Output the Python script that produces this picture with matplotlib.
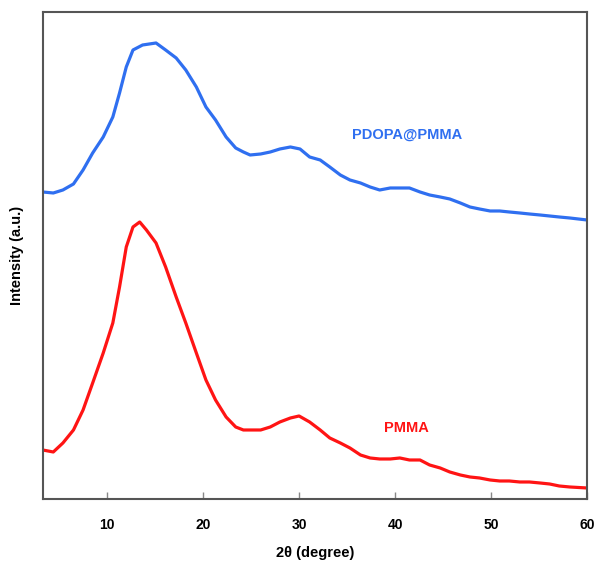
import numpy as np
import matplotlib.pyplot as plt

plt.rcParams['font.family'] = ['Liberation Sans', 'DejaVu Sans']

# --- data (intensity in arbitrary units) ---
two_theta_blue = [3.3, 4.4, 5.4, 6.5, 7.5, 8.5, 9.6, 10.6, 11.3, 12.0, 12.7, 13.7,
                  15.1, 16.1, 17.2, 18.2, 19.3, 20.3, 21.3, 22.4, 23.4, 24.2, 24.9,
                  26.0, 27.0, 28.0, 29.1, 30.1, 31.1, 32.2, 33.2, 34.3, 35.3, 36.4,
                  37.4, 38.4, 39.5, 40.5, 41.5, 42.6, 43.6, 44.7, 45.7, 46.8, 47.8,
                  48.8, 49.9, 50.9, 51.9, 53.0, 54.0, 55.1, 56.1, 57.1, 58.2, 60.0]
pdopa_pmma = [307, 306, 309, 315, 329, 346, 362, 382, 406, 432, 449, 454,
              456, 449, 441, 429, 412, 392, 379, 362, 351, 347, 344,
              345, 347, 350, 352, 350, 342, 339, 332, 324, 319, 316,
              312, 309, 311, 311, 311, 307, 304, 302, 300, 296, 292,
              290, 288, 288, 287, 286, 285, 284, 283, 282, 281, 279]

two_theta_red = [3.3, 4.4, 5.4, 6.5, 7.5, 8.5, 9.6, 10.6, 11.3, 12.0, 12.7, 13.4,
                 14.1, 15.1, 16.1, 17.2, 18.2, 19.3, 20.3, 21.3, 22.4, 23.4, 24.2,
                 24.9, 26.0, 27.0, 28.0, 29.1, 30.0, 31.1, 32.2, 33.2, 34.3, 35.3,
                 36.4, 37.4, 38.4, 39.5, 40.5, 41.5, 42.6, 43.6, 44.7, 45.7, 46.8,
                 47.8, 48.8, 49.9, 50.9, 51.9, 53.0, 54.0, 55.1, 56.1, 57.1, 58.2, 60.0]
pmma = [49, 47, 56, 69, 89, 116, 146, 176, 212, 252, 272, 277,
        269, 256, 232, 202, 176, 146, 119, 99, 82, 72, 69,
        69, 69, 72, 77, 81, 83, 77, 69, 61, 56, 51,
        44, 41, 40, 40, 41, 39, 39, 34, 31, 27, 24,
        22, 21, 19, 18, 18, 17, 17, 16, 15, 13, 12, 11]

fig = plt.figure(figsize=(5.96, 5.63), dpi=100)
ax = fig.add_axes([0.0722, 0.1137, 0.9128, 0.865])

ax.plot(two_theta_blue, pdopa_pmma, color='#2f6ff0', linewidth=2.3)
ax.plot(two_theta_red, pmma, color='#ff1414', linewidth=2.3)

ax.text(41.3, 364, 'PDOPA@PMMA', color='#2f6ff0', fontsize=10.5,
        fontweight='bold', ha='center', va='center')
ax.text(41.2, 71, 'PMMA', color='#ff1414', fontsize=10.5,
        fontweight='bold', ha='center', va='center')

ax.set_xlim(3.33, 60)
ax.set_ylim(0, 487)
ax.set_xticks([10, 20, 30, 40, 50, 60])
ax.set_yticks([])
ax.tick_params(axis='x', direction='in', length=5, width=1, color='#888888',
               labelsize=10, pad=14)
for lbl in ax.get_xticklabels():
    lbl.set_fontweight('bold')
for sp in ax.spines.values():
    sp.set_color('#555555')
    sp.set_linewidth(1.5)

ax.set_xlabel('2θ (degree)', fontsize=10.5, fontweight='bold', labelpad=10)
ax.set_ylabel('Intensity (a.u.)', fontsize=10.5, fontweight='bold', labelpad=14)

plt.savefig('out.png', dpi=100)
